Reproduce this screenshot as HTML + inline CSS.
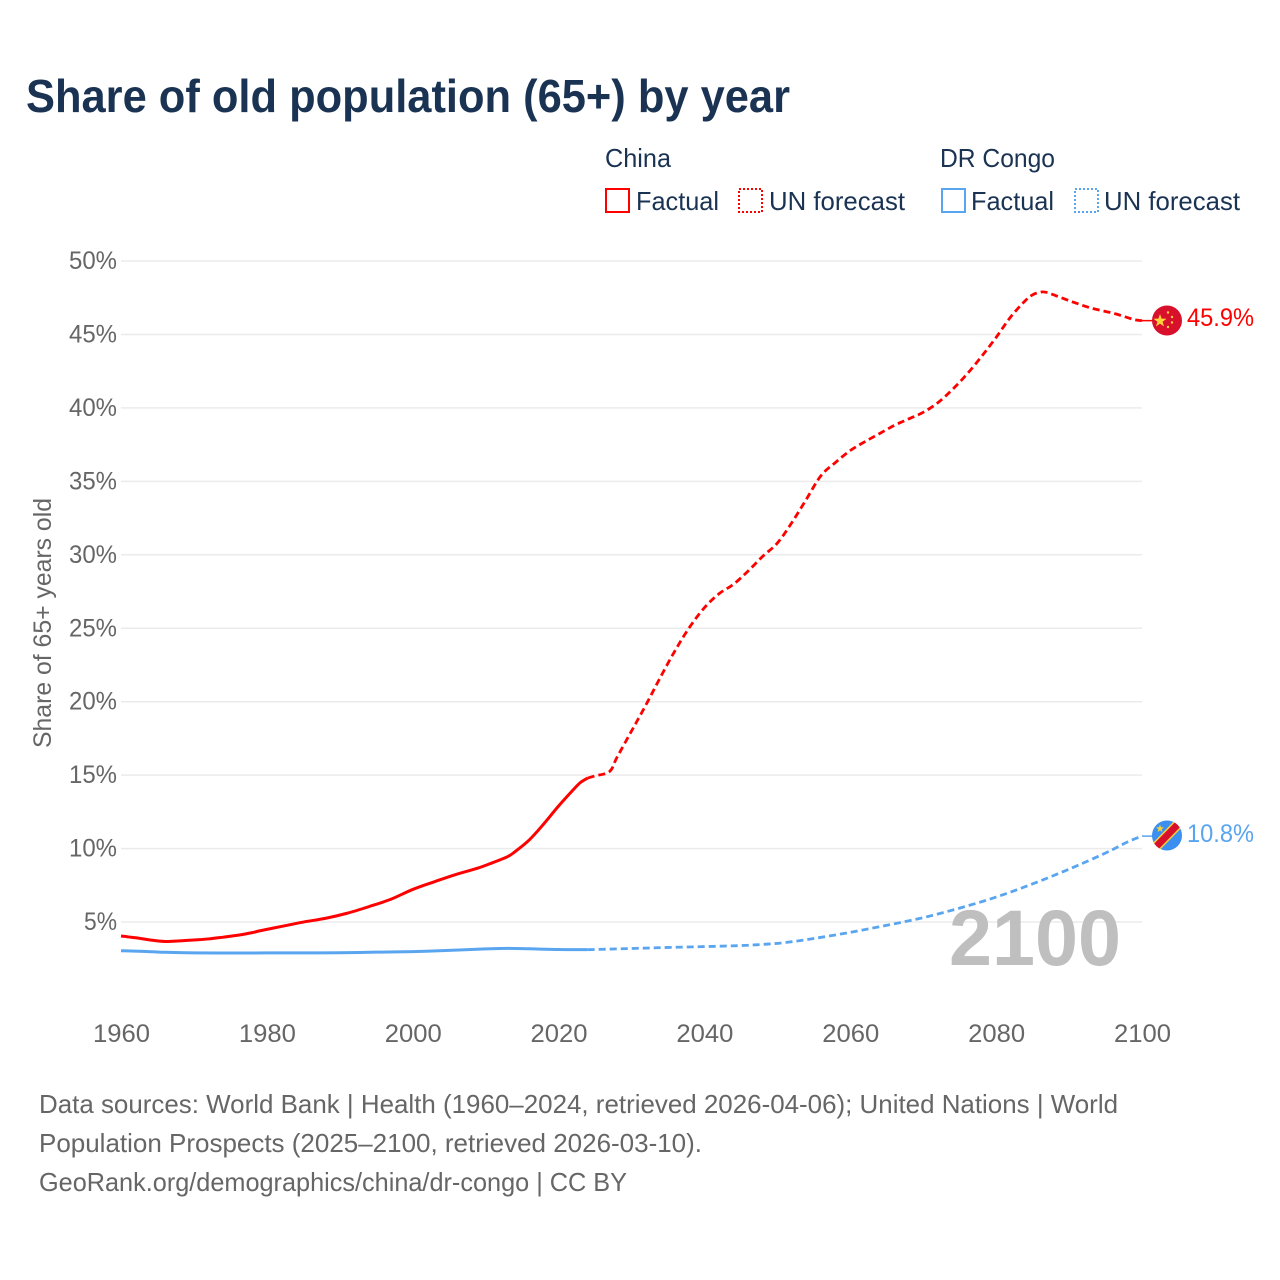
<!DOCTYPE html>
<html lang="en">
<head>
<meta charset="utf-8">
<title>Share of old population (65+) by year</title>
<style>
  html, body { margin: 0; padding: 0; background: #fff; }
  svg { display: block; font-family: "Liberation Sans", Arial, sans-serif; }
</style>
</head>
<body>
<svg id="chart" xmlns="http://www.w3.org/2000/svg" width="1280" height="1280" viewBox="0 0 1280 1280">
  <rect width="1280" height="1280" fill="#ffffff"/>
  <text x="26" y="112" font-size="46" font-weight="700" fill="#1a3353" textLength="764" lengthAdjust="spacingAndGlyphs">Share of old population (65+) by year</text>

  <g fill="#1a3353" font-size="26">
    <text x="605" y="167" textLength="66" lengthAdjust="spacingAndGlyphs">China</text>
    <text x="940" y="167" textLength="115" lengthAdjust="spacingAndGlyphs">DR Congo</text>
    <rect x="606" y="189" width="23" height="23" fill="none" stroke="#ff0000" stroke-width="2"/>
    <text x="636" y="210" textLength="83" lengthAdjust="spacingAndGlyphs">Factual</text>
    <rect x="739" y="189" width="23" height="23" fill="none" stroke="#ff0000" stroke-width="2" stroke-dasharray="2 2"/>
    <text x="769" y="210" textLength="136" lengthAdjust="spacingAndGlyphs">UN forecast</text>
    <rect x="942" y="189" width="23" height="23" fill="none" stroke="#5aa5ef" stroke-width="2"/>
    <text x="971" y="210" textLength="83" lengthAdjust="spacingAndGlyphs">Factual</text>
    <rect x="1075" y="189" width="23" height="23" fill="none" stroke="#5aa5ef" stroke-width="2" stroke-dasharray="2 2"/>
    <text x="1104" y="210" textLength="136" lengthAdjust="spacingAndGlyphs">UN forecast</text>
  </g>

  <text transform="translate(51,623) rotate(-90)" text-anchor="middle" font-size="25" fill="#666666" textLength="250" lengthAdjust="spacingAndGlyphs">Share of 65+ years old</text>

  <g id="grid"></g>
  <g id="y-ticks"></g>
  <g id="x-ticks"></g>

  <text x="949" y="965" font-size="79" font-weight="700" fill="#bfbfbf" textLength="172" lengthAdjust="spacingAndGlyphs">2100</text>

  <g id="series"></g>

  <defs>
    <clipPath id="flag-clip-china"><circle cx="1167" cy="320.5" r="15"/></clipPath>
    <clipPath id="flag-clip-drc"><circle cx="1167" cy="835.5" r="15"/></clipPath>
  </defs>
  <g clip-path="url(#flag-clip-china)">
    <rect x="1152" y="305" width="30" height="31" fill="#d8102c"/>
    <polygon points="1160,314 1161.6,318.6 1166.5,318.7 1162.6,321.7 1164,326.4 1160,323.6 1156,326.4 1157.4,321.7 1153.5,318.7 1158.4,318.6" fill="#ffd43b"/>
    <circle cx="1168" cy="312.5" r="1.2" fill="#ffd43b"/>
    <circle cx="1172" cy="317" r="1.2" fill="#ffd43b"/>
    <circle cx="1172" cy="322.5" r="1.2" fill="#ffd43b"/>
    <circle cx="1168" cy="327" r="1.2" fill="#ffd43b"/>
  </g>
  <g clip-path="url(#flag-clip-drc)">
    <rect x="1152" y="820" width="30" height="31" fill="#3a8ff0"/>
    <line x1="1150" y1="853" x2="1184" y2="818" stroke="#f7d038" stroke-width="10"/>
    <line x1="1150" y1="853" x2="1184" y2="818" stroke="#d8102c" stroke-width="7"/>
    <polygon points="1160,824.5 1161,827.3 1164,827.4 1161.6,829.2 1162.5,832 1160,830.4 1157.5,832 1158.4,829.2 1156,827.4 1159,827.3" fill="#f7d038"/>
  </g>

  <text x="1187" y="326" font-size="25" fill="#ff0000" textLength="67" lengthAdjust="spacingAndGlyphs">45.9%</text>
  <text x="1187" y="842" font-size="25" fill="#5aa5ef" textLength="67" lengthAdjust="spacingAndGlyphs">10.8%</text>

  <g fill="#666666" font-size="26">
    <text x="39" y="1113" textLength="1079" lengthAdjust="spacingAndGlyphs">Data sources: World Bank | Health (1960–2024, retrieved 2026-04-06); United Nations | World</text>
    <text x="39" y="1152" textLength="663" lengthAdjust="spacingAndGlyphs">Population Prospects (2025–2100, retrieved 2026-03-10).</text>
    <text x="39" y="1191" textLength="588" lengthAdjust="spacingAndGlyphs">GeoRank.org/demographics/china/dr-congo | CC BY</text>
  </g>
</svg>

<script>
const yTickValues = [5, 10, 15, 20, 25, 30, 35, 40, 45, 50];
const xTickYears = [1960, 1980, 2000, 2020, 2040, 2060, 2080, 2100];

const chinaFactualYears = [1960, 1962, 1964, 1966, 1968, 1970, 1972, 1974, 1976, 1978, 1979, 1982, 1985, 1988, 1991, 1994, 1997, 2000, 2003, 2006, 2009, 2011, 2013, 2014, 2016, 2018, 2020, 2022, 2023, 2024];
const chinaFactualValues = [4.05, 3.93, 3.78, 3.68, 3.72, 3.78, 3.85, 3.97, 4.1, 4.28, 4.4, 4.7, 5.0, 5.25, 5.6, 6.05, 6.55, 7.22, 7.75, 8.25, 8.68, 9.05, 9.45, 9.78, 10.6, 11.7, 12.9, 14.0, 14.5, 14.8];

const chinaForecastYears = [2024, 2025, 2027, 2028, 2030, 2032, 2034, 2036, 2038, 2040, 2042, 2044, 2046, 2048, 2050, 2052, 2054, 2056, 2058, 2060, 2062, 2064, 2066, 2068, 2070, 2072, 2074, 2076, 2078, 2080, 2082, 2084, 2085, 2086, 2087, 2090, 2093, 2096, 2098, 2099, 2100];
const chinaForecastValues = [14.8, 14.95, 15.25, 16.2, 18.0, 19.8, 21.7, 23.5, 25.1, 26.4, 27.35, 28.0, 28.9, 29.9, 30.8, 32.2, 33.8, 35.4, 36.3, 37.1, 37.7, 38.25, 38.8, 39.25, 39.7, 40.35, 41.25, 42.3, 43.5, 44.8, 46.2, 47.3, 47.7, 47.87, 47.85, 47.3, 46.8, 46.45, 46.15, 46.0, 45.94];

const congoFactualYears = [1960, 1963, 1966, 1970, 1975, 1980, 1985, 1990, 1995, 2000, 2005, 2010, 2013, 2016, 2020, 2024];
const congoFactualValues = [3.05, 3.0, 2.94, 2.9, 2.89, 2.9, 2.9, 2.91, 2.95, 2.99, 3.07, 3.17, 3.21, 3.18, 3.13, 3.12];

const congoForecastYears = [2024, 2030, 2035, 2040, 2045, 2048, 2051, 2055, 2060, 2065, 2070, 2075, 2080, 2085, 2090, 2095, 2098, 2100];
const congoForecastValues = [3.12, 3.2, 3.27, 3.33, 3.4, 3.48, 3.6, 3.88, 4.3, 4.78, 5.3, 5.95, 6.7, 7.6, 8.6, 9.7, 10.45, 10.85];

const SVGNS = 'http://www.w3.org/2000/svg';
const xScale = year => 121 + (year - 1960) * (1142 - 121) / 140;
const yScale = value => 995.5 - value * 14.69;

function smoothPath(years, values) {
  const pts = years.map((yr, i) => [xScale(yr), yScale(values[i])]);
  let d = 'M' + pts[0][0].toFixed(2) + ',' + pts[0][1].toFixed(2);
  for (let i = 0; i < pts.length - 1; i++) {
    const p0 = pts[Math.max(i - 1, 0)], p1 = pts[i], p2 = pts[i + 1], p3 = pts[Math.min(i + 2, pts.length - 1)];
    const c1x = p1[0] + (p2[0] - p0[0]) / 6, c1y = p1[1] + (p2[1] - p0[1]) / 6;
    const c2x = p2[0] - (p3[0] - p1[0]) / 6, c2y = p2[1] - (p3[1] - p1[1]) / 6;
    d += 'C' + c1x.toFixed(2) + ',' + c1y.toFixed(2) + ' ' + c2x.toFixed(2) + ',' + c2y.toFixed(2) + ' ' + p2[0].toFixed(2) + ',' + p2[1].toFixed(2);
  }
  return d;
}

const gridGroup = document.getElementById('grid');
const yTickGroup = document.getElementById('y-ticks');
const xTickGroup = document.getElementById('x-ticks');
const seriesGroup = document.getElementById('series');

yTickValues.forEach(v => {
  const line = document.createElementNS(SVGNS, 'line');
  
  
  line.setAttribute('x1', 121);
  line.setAttribute('x2', 1142);
  line.setAttribute('y1', yScale(v));
  line.setAttribute('y2', yScale(v));
  line.setAttribute('stroke', '#ebebeb');
  line.setAttribute('stroke-width', '1.5');
  gridGroup.appendChild(line);

  const label = document.createElementNS(SVGNS, 'text');
  
  
  label.setAttribute('x', 117);
  label.setAttribute('y', yScale(v) + 8);
  label.setAttribute('text-anchor', 'end');
  label.setAttribute('font-size', '25');
  label.setAttribute('fill', '#666666');
  label.setAttribute('textLength', v < 10 ? '33' : '48');
  label.setAttribute('lengthAdjust', 'spacingAndGlyphs');
  label.textContent = v + '%';
  yTickGroup.appendChild(label);
});

xTickYears.forEach(yr => {
  const label = document.createElementNS(SVGNS, 'text');
  
  
  label.setAttribute('x', xScale(yr) + 0.5);
  label.setAttribute('y', 1042);
  label.setAttribute('text-anchor', 'middle');
  label.setAttribute('font-size', '25');
  label.setAttribute('fill', '#666666');
  label.setAttribute('textLength', '57');
  label.setAttribute('lengthAdjust', 'spacingAndGlyphs');
  label.textContent = yr;
  xTickGroup.appendChild(label);
});

function addLine(name, years, values, color, dashed) {
  const path = document.createElementNS(SVGNS, 'path');
  
  
  path.setAttribute('d', smoothPath(years, values));
  path.setAttribute('fill', 'none');
  path.setAttribute('stroke', color);
  path.setAttribute('stroke-width', dashed ? '2.8' : '3');
  path.setAttribute('stroke-linejoin', 'round');
  if (dashed) path.setAttribute('stroke-dasharray', '7 4');
  seriesGroup.appendChild(path);
}

function addConnector(name, year, value, color) {
  const link = document.createElementNS(SVGNS, 'line');
  
  
  link.setAttribute('x1', xScale(year));
  link.setAttribute('x2', 1153);
  link.setAttribute('y1', yScale(value));
  link.setAttribute('y2', yScale(value));
  link.setAttribute('stroke', color);
  link.setAttribute('stroke-width', '1.5');
  seriesGroup.appendChild(link);
}

addLine('china-factual-line', chinaFactualYears, chinaFactualValues, '#ff0000', false);
addLine('china-forecast-line', chinaForecastYears, chinaForecastValues, '#ff0000', true);
addLine('dr-congo-factual-line', congoFactualYears, congoFactualValues, '#5aa5ef', false);
addLine('dr-congo-forecast-line', congoForecastYears, congoForecastValues, '#5aa5ef', true);
addConnector('china-end-connector', 2100, chinaForecastValues[chinaForecastValues.length - 1], '#ff0000');
addConnector('dr-congo-end-connector', 2100, congoForecastValues[congoForecastValues.length - 1], '#5aa5ef');
</script>
</body>
</html>
